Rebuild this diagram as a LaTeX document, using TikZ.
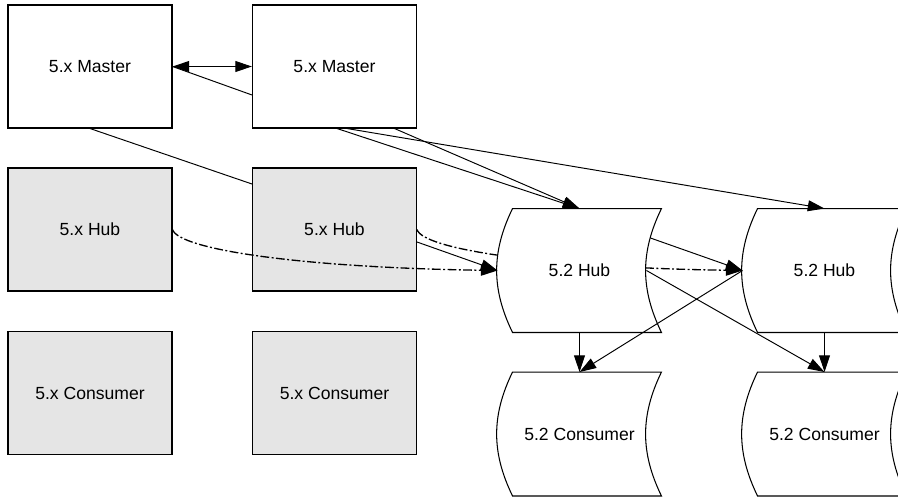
\documentclass[tikz,border=0pt]{standalone}
\usepackage{fontspec}
\setmainfont{Liberation Sans}
\usetikzlibrary{arrows.meta,calc}
\begin{document}
\begin{tikzpicture}[x=0.02cm,y=-0.02cm,
  font=\fontsize{10pt}{12pt}\selectfont,
  line width=0.55pt,
  oldbox/.style={draw=black,line width=0.6pt,minimum width=3.28cm,minimum height=2.46cm,inner sep=0pt,anchor=center},
  oldwhite/.style={oldbox,fill=white},
  oldgray/.style={oldbox,fill=black!10},
  newbox/.style={minimum width=3.26cm,minimum height=2.46cm,inner sep=0pt,anchor=center},
  conn/.style={-{Triangle[length=9.5pt,width=6.2pt]}},
  dconn/.style={{Triangle[length=9.5pt,width=6.2pt]}-{Triangle[length=9.5pt,width=6.2pt]}},
  dashdot/.style={line width=0.75pt,dash pattern=on 5pt off 1.4pt on 1.1pt off 1.4pt},
  outline/.style={draw=black,line width=0.6pt,fill=white}
]
\useasboundingbox (0,0) rectangle (898,497);
\clip (0,0) rectangle (898,497);

% 5.x nodes
\node[oldwhite] (m1) at (90,66.5) {5.x Master};
\node[oldwhite] (m2) at (334.5,66.5) {5.x Master};
\node[oldgray] (x1) at (90,229.5) {5.x Hub};
\node[oldgray] (x2) at (334.5,229.5) {5.x Hub};
\node[oldgray] (k1) at (90,393) {5.x Consumer};
\node[oldgray] (k2) at (334.5,393) {5.x Consumer};

% 5.2 node anchors (text drawn later)
\node[newbox] (h1) at (579.5,270.5) {};
\node[newbox] (h2) at (824.5,270.5) {};
\node[newbox] (c1) at (579.5,434) {};
\node[newbox] (c2) at (824.5,434) {};

% dash-dot curve from second 5.x Hub, passing behind first 5.2 Hub
\draw[dashdot,conn] (x2.east) .. controls ($(x2.east)+(6,20)$) and ($(x2.east)+(128,38)$) .. (h2.west);

% 5.2 shapes
\foreach \n in {h1,h2,c1,c2}{
  \draw[outline] ([xshift=0.3cm]\n.north west) -- (\n.north east)
    to[bend right=26] (\n.south east) -- ([xshift=0.3cm]\n.south west)
    to[bend left=26] ([xshift=0.3cm]\n.north west) -- cycle;
}
\node at (h1) {5.2 Hub};
\node at (h2) {5.2 Hub};
\node at (c1) {5.2 Consumer};
\node at (c2) {5.2 Consumer};

% connectors
\draw[dconn] (m1.east) -- (m2.west);
\draw ([yshift=-0.57cm]m2.west) -- (m1.east);
\draw (m1.south) -- ([yshift=0.91cm]x2.west);
\draw[conn] ([xshift=0.05cm]m2.south) -- (h1.north);
\draw[conn] ([xshift=1.2cm]m2.south) -- (h1.north);
\draw[conn] ([xshift=0.25cm]m2.south) -- (h2.north);
\draw[dashdot,conn] (x1.east) .. controls ($(x1.east)+(6,20)$) and ($(x1.east)+(128,38)$) .. (h1.west);
\draw[conn] ([yshift=-0.25cm]x2.east) -- (h1.west);
\draw[conn] ([xshift=-0.22cm,yshift=0.65cm]h1.east) -- (h2.west);
\draw[conn] ([xshift=-0.3cm]h1.east) -- (c2.north);
\draw[conn] (h2.west) -- (c1.north);
\draw[conn] (h1.south) -- (c1.north);
\draw[conn] (h2.south) -- (c2.north);
\end{tikzpicture}
\end{document}
